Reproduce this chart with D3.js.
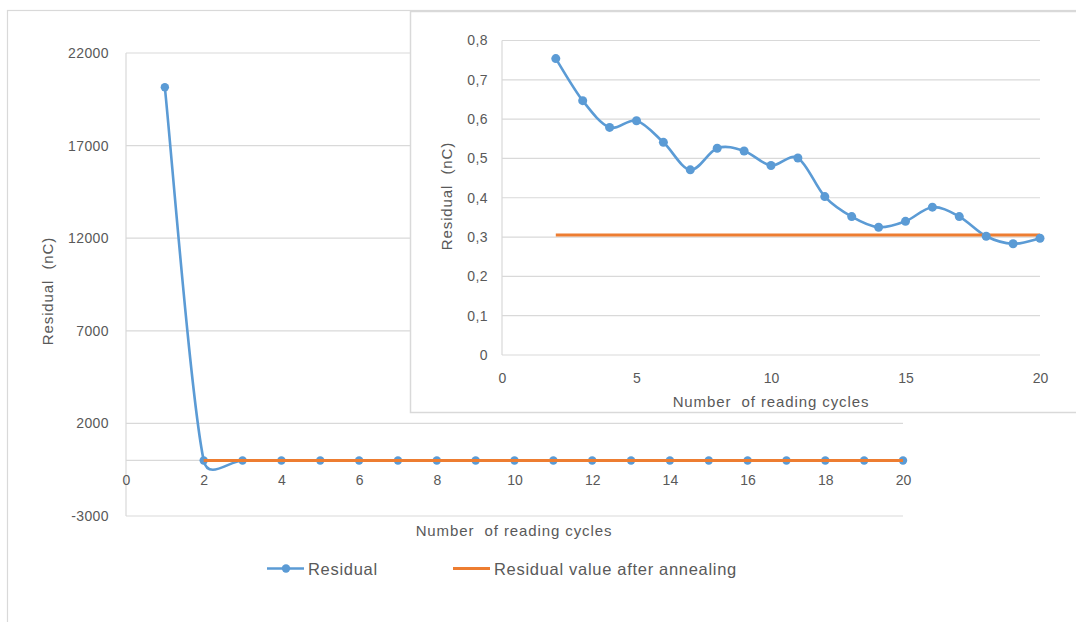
<!DOCTYPE html>
<html>
<head>
<meta charset="utf-8">
<script src="https://cdn.jsdelivr.net/npm/d3@7"></script>
<style>
  html, body { margin: 0; padding: 0; background: #ffffff; }
  svg { display: block; font-family: "Liberation Sans", Arial, sans-serif; }
  .tick text { fill: #595959; }
</style>
</head>
<body>
<svg id="chart" width="1076" height="622"></svg>
<script>
// Reading cycles and measured residual charge (nC)
const cycles = [1, 2, 3, 4, 5, 6, 7, 8, 9, 10, 11, 12, 13, 14, 15, 16, 17, 18, 19, 20];
const residual = [20150, 0.754, 0.647, 0.579, 0.596, 0.541, 0.471, 0.526, 0.519, 0.482,
                  0.501, 0.403, 0.352, 0.325, 0.340, 0.376, 0.352, 0.302, 0.283, 0.297];
// Residual value after annealing, constant from cycle 2 onward
const annealCycles = [2, 3, 4, 5, 6, 7, 8, 9, 10, 11, 12, 13, 14, 15, 16, 17, 18, 19, 20];
const annealValues = [0.305, 0.305, 0.305, 0.305, 0.305, 0.305, 0.305, 0.305, 0.305, 0.305,
                      0.305, 0.305, 0.305, 0.305, 0.305, 0.305, 0.305, 0.305, 0.305];

// Axis ticks
const mainYTicks = [-3000, 2000, 7000, 12000, 17000, 22000];
const mainXTicks = [0, 2, 4, 6, 8, 10, 12, 14, 16, 18, 20];
const insetYTicks = [0, 0.1, 0.2, 0.3, 0.4, 0.5, 0.6, 0.7, 0.8];
const insetXTicks = [0, 5, 10, 15, 20];

const seriesNames = ["Residual", "Residual value after annealing"];
const BLUE = "#5b9bd5", ORANGE = "#ed7d31", GRID = "#d9d9d9", TEXT = "#595959";

// Smoothed line: Bezier segments with Catmull-Rom tangents, each handle
// limited to a fraction of its segment so short steps don't overshoot.
function curveSmoothCapped(context) {
  const CAP = 0.55;
  let pts;
  return {
    areaStart() {}, areaEnd() {},
    lineStart() { pts = []; },
    point(x, y) { pts.push([+x, +y]); },
    lineEnd() {
      const n = pts.length;
      if (!n) return;
      context.moveTo(pts[0][0], pts[0][1]);
      if (n === 1) return;
      const tan = pts.map((p, i) => {
        const a = pts[Math.max(0, i - 1)], b = pts[Math.min(n - 1, i + 1)];
        return [(b[0] - a[0]) / 6, (b[1] - a[1]) / 6];
      });
      for (let i = 0; i < n - 1; i++) {
        const p = pts[i], q = pts[i + 1];
        const seg = Math.hypot(q[0] - p[0], q[1] - p[1]);
        const t0 = tan[i], t1 = tan[i + 1];
        const l0 = Math.hypot(t0[0], t0[1]) || 1, l1 = Math.hypot(t1[0], t1[1]) || 1;
        const s0 = Math.min(1, CAP * seg / l0), s1 = Math.min(1, CAP * seg / l1);
        context.bezierCurveTo(p[0] + t0[0] * s0, p[1] + t0[1] * s0,
                              q[0] - t1[0] * s1, q[1] - t1[1] * s1, q[0], q[1]);
      }
    }
  };
}

const svg = d3.select("#chart");
const residualPts = cycles.map((c, i) => ({ x: c, y: residual[i] }));
const annealPts = annealCycles.map((c, i) => ({ x: c, y: annealValues[i] }));
const decimalComma = v => v === 0 ? "0" : d3.format(".1f")(v).replace(".", ",");

// Outer chart frame
svg.append("rect")
  .attr("x", 7.5).attr("y", 10.5).attr("width", 1200).attr("height", 800)
  .attr("fill", "#ffffff").attr("stroke", GRID).attr("stroke-width", 1.2);

// ---------- Main chart ----------
const x = d3.scaleLinear().domain([0, 20]).range([126, 903]);
const y = d3.scaleLinear().domain([-3000, 22000]).range([516, 53]);

const main = svg.append("g");
main.append("g").selectAll("line").data(mainYTicks).join("line")
  .attr("x1", x(0)).attr("x2", x(20))
  .attr("y1", d => y(d)).attr("y2", d => y(d))
  .attr("stroke", GRID).attr("stroke-width", 1.2);
// zero line carrying the category axis
main.append("line")
  .attr("x1", x(0)).attr("x2", x(20)).attr("y1", y(0)).attr("y2", y(0))
  .attr("stroke", GRID).attr("stroke-width", 1.2);
main.append("line")
  .attr("x1", x(0)).attr("x2", x(0)).attr("y1", y(22000)).attr("y2", y(-3000))
  .attr("stroke", GRID).attr("stroke-width", 1.2);

const yAxis = main.append("g").attr("transform", `translate(${x(0)},0)`)
  .call(d3.axisLeft(y).tickValues(mainYTicks).tickSize(0).tickPadding(17).tickFormat(d => String(d)));
yAxis.select(".domain").remove();
yAxis.selectAll("text").attr("font-size", 14).attr("letter-spacing", 0.4).attr("fill", TEXT);

const xAxis = main.append("g").attr("transform", `translate(0,${y(0)})`)
  .call(d3.axisBottom(x).tickValues(mainXTicks).tickSize(0).tickPadding(15));
xAxis.select(".domain").remove();
xAxis.selectAll("text").attr("font-size", 14).attr("fill", TEXT);

main.append("path").datum(residualPts)
  .attr("d", d3.line().x(d => x(d.x)).y(d => y(d.y)).curve(curveSmoothCapped))
  .attr("fill", "none").attr("stroke", BLUE).attr("stroke-width", 2.6);
main.append("g").selectAll("circle").data(residualPts).join("circle")
  .attr("cx", d => x(d.x)).attr("cy", d => y(d.y)).attr("r", 4.2).attr("fill", BLUE);
main.append("path").datum(annealPts)
  .attr("d", d3.line().x(d => x(d.x)).y(d => y(d.y)))
  .attr("fill", "none").attr("stroke", ORANGE).attr("stroke-width", 3);

main.append("text")
  .attr("transform", `translate(53,291) rotate(-90)`)
  .attr("text-anchor", "middle").attr("font-size", 15).attr("letter-spacing", 0.9)
  .attr("fill", TEXT).attr("xml:space", "preserve")
  .text("Residual  (nC)");
main.append("text")
  .attr("x", 514).attr("y", 536).attr("text-anchor", "middle")
  .attr("font-size", 15).attr("letter-spacing", 0.9).attr("fill", TEXT)
  .attr("xml:space", "preserve")
  .text("Number  of reading cycles");

// Legend
const legend = svg.append("g");
const legendItems = [
  { name: seriesNames[0], color: BLUE, x0: 267, marker: true },
  { name: seriesNames[1], color: ORANGE, x0: 453, marker: false }
];
legendItems.forEach(it => {
  legend.append("line")
    .attr("x1", it.x0).attr("x2", it.x0 + 37).attr("y1", 568.5).attr("y2", 568.5)
    .attr("stroke", it.color).attr("stroke-width", it.marker ? 2.6 : 3);
  if (it.marker) {
    legend.append("circle").attr("cx", it.x0 + 19).attr("cy", 568.5).attr("r", 4.2).attr("fill", it.color);
  }
  legend.append("text")
    .attr("x", it.x0 + 41).attr("y", 574.5)
    .attr("font-size", 16.5).attr("letter-spacing", 0.7).attr("fill", TEXT)
    .text(it.name);
});

// ---------- Inset: cycles 2 to 20 at fine scale ----------
const inset = svg.append("g");
inset.append("rect")
  .attr("x", 410.5).attr("y", 11.5).attr("width", 700).attr("height", 401)
  .attr("fill", "#ffffff").attr("stroke", GRID).attr("stroke-width", 1.5);

const ix = d3.scaleLinear().domain([0, 20]).range([502, 1040]);
const iy = d3.scaleLinear().domain([0, 0.8]).range([355, 40.5]);

inset.append("g").selectAll("line").data(insetYTicks).join("line")
  .attr("x1", ix(0)).attr("x2", ix(20))
  .attr("y1", d => iy(d)).attr("y2", d => iy(d))
  .attr("stroke", GRID).attr("stroke-width", 1.2);
inset.append("line")
  .attr("x1", ix(0)).attr("x2", ix(0)).attr("y1", iy(0.8)).attr("y2", iy(0))
  .attr("stroke", GRID).attr("stroke-width", 1.2);

const iyAxis = inset.append("g").attr("transform", `translate(${ix(0)},0)`)
  .call(d3.axisLeft(iy).tickValues(insetYTicks).tickSize(0).tickPadding(14).tickFormat(decimalComma));
iyAxis.select(".domain").remove();
iyAxis.selectAll("text").attr("font-size", 14).attr("letter-spacing", 0.4).attr("fill", TEXT);

const ixAxis = inset.append("g").attr("transform", `translate(0,${iy(0)})`)
  .call(d3.axisBottom(ix).tickValues(insetXTicks).tickSize(0).tickPadding(18));
ixAxis.select(".domain").remove();
ixAxis.selectAll("text").attr("font-size", 14).attr("fill", TEXT);

const insetPts = residualPts.filter(d => d.x >= 2);
inset.append("path").datum(insetPts)
  .attr("d", d3.line().x(d => ix(d.x)).y(d => iy(d.y)).curve(curveSmoothCapped))
  .attr("fill", "none").attr("stroke", BLUE).attr("stroke-width", 2.6);
inset.append("path").datum(annealPts)
  .attr("d", d3.line().x(d => ix(d.x)).y(d => iy(d.y)))
  .attr("fill", "none").attr("stroke", ORANGE).attr("stroke-width", 3);
inset.append("g").selectAll("circle").data(insetPts).join("circle")
  .attr("cx", d => ix(d.x)).attr("cy", d => iy(d.y)).attr("r", 4.5).attr("fill", BLUE);

inset.append("text")
  .attr("transform", `translate(452,196) rotate(-90)`)
  .attr("text-anchor", "middle").attr("font-size", 15).attr("letter-spacing", 0.9)
  .attr("fill", TEXT).attr("xml:space", "preserve")
  .text("Residual  (nC)");
inset.append("text")
  .attr("x", 771).attr("y", 407).attr("text-anchor", "middle")
  .attr("font-size", 15).attr("letter-spacing", 0.9).attr("fill", TEXT)
  .attr("xml:space", "preserve")
  .text("Number  of reading cycles");
</script>
</body>
</html>
